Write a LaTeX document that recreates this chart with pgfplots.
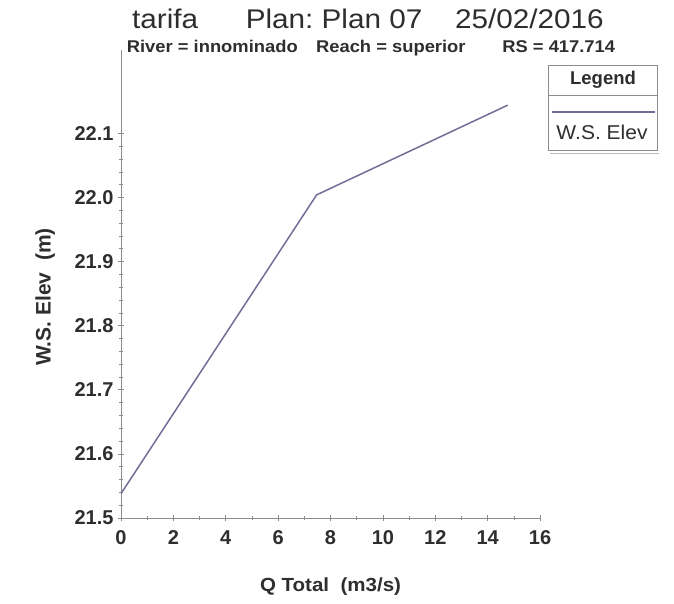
\documentclass[border=0pt]{standalone}
\usepackage{pgfplots}
\pgfplotsset{compat=1.18}
\usepackage{fontspec}
\setmainfont{Liberation Sans}
\frenchspacing
\definecolor{txt}{rgb}{0.18,0.18,0.18}
\definecolor{axc}{rgb}{0.55,0.55,0.55}
\definecolor{ln}{RGB}{110,110,150}
\begin{document}
\begin{tikzpicture}
\useasboundingbox (-121bp,-86bp) rectangle (553bp,518bp);
\begin{axis}[
  at={(0,0)}, anchor=south west,
  scale only axis, width=419bp, height=468bp,
  xmin=0, xmax=16, ymin=21.5, ymax=22.23,
  axis x line*=bottom, axis y line*=left,
  axis line style={axc, line width=0.8pt},
  xtick={0,2,...,16}, ytick={21.5,21.6,21.7,21.8,21.9,22.0,22.1},
  minor x tick num=1, minor y tick num=4,
  tick align=center, major tick length=6bp, minor tick length=4bp,
  tick style={axc, line width=0.6pt},
  /pgf/number format/assume math mode=true,
  ticklabel style={font=\fontsize{20bp}{22bp}\selectfont\bfseries, text=txt},
  yticklabel style={/pgf/number format/fixed, /pgf/number format/fixed zerofill, /pgf/number format/precision=1, xshift=-1bp},
  xticklabel style={yshift=-6bp},
  xlabel={\scalebox{1.08}[1]{Q Total\ \ (m3/s)}},
  ylabel={W.S. Elev\ \ (m)},
  xlabel style={font=\fontsize{19bp}{21bp}\selectfont\bfseries, text=txt, at={(axis description cs:0.5,0)}, anchor=base, yshift=-73bp},
  ylabel style={font=\fontsize{21bp}{23bp}\selectfont\bfseries, text=txt, at={(axis description cs:-0.181,0.472)}, anchor=center},
]
\addplot[ln, line width=1.5pt] coordinates {
(0,21.538) (7.47,22.004) (14.77,22.144)
};
\end{axis}
% titles
\node[anchor=base, text=txt, font=\fontsize{27bp}{30bp}\selectfont] at (247bp,489bp)
  {\scalebox{1.1}[1]{tarifa\hspace{1.6em}Plan: Plan 07\hspace{1.1em}25/02/2016}};
\node[anchor=base, text=txt, font=\fontsize{17bp}{19bp}\selectfont\bfseries] at (250bp,465bp)
  {\scalebox{1.08}[1]{River = innominado\hspace{1em}Reach = superior\hspace{2em}RS = 417.714}};
% legend box
\draw[axc, line width=0.8pt] (427bp,368bp) rectangle (536bp,453bp);
\draw[axc!60, line width=0.6pt] (429bp,365bp) -- (538bp,365bp);
\draw[axc, line width=0.6pt] (427bp,423bp) -- (536bp,423bp);
\node[anchor=center, text=txt, font=\fontsize{18.5bp}{20bp}\selectfont\bfseries] at (482bp,438bp) {Legend};
\draw[ln, line width=1.2pt] (431bp,406bp) -- (534bp,406bp);
\node[anchor=center, text=txt, font=\fontsize{20bp}{22bp}\selectfont] at (481bp,386bp) {\scalebox{1.05}[1]{W.S. Elev}};
\end{tikzpicture}
\end{document}
